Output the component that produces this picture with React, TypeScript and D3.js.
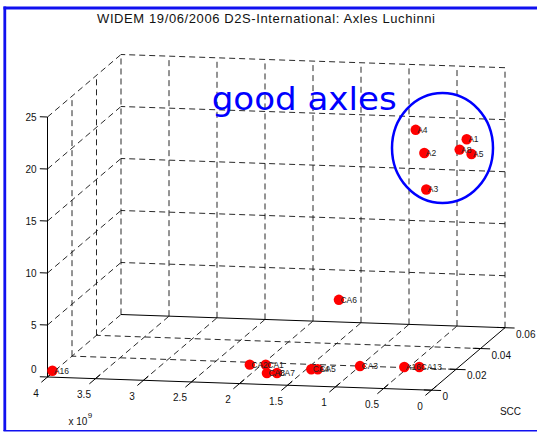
import React from 'react';
import * as d3 from 'd3';

// point labels and coordinates (x in units of 1e9, SCC, vertical value)
const labels = ['A1', 'A2', 'A3', 'A4', 'A5', 'A8', 'CA6', 'A16', 'CA2', 'CA1', 'CA8', 'CA7', 'CA4', 'CA5', 'CA3', 'A16', 'CA13'];
const xVals = [0.08, 0.33, 0.31, 0.42, 0.03, 0.09, 1.22, 4.0, 2.12, 1.96, 1.85, 1.75, 1.45, 1.385, 1.0, 0.545, 0.395];
const sccVals = [0.035, 0.02, 0.02, 0.02, 0.035, 0.03, 0.02, 0.004, 0.0178, 0.0183, 0.0106, 0.011, 0.0155, 0.0157, 0.02, 0.0205, 0.021];
const zVals = [20.6, 20.7, 17.2, 22.9, 19.2, 20.1, 6.3, 0.2, 0, 0, 0, 0, 0, 0, 0, 0, 0];

const xTicks = [0, 0.5, 1, 1.5, 2, 2.5, 3, 3.5, 4];
const yTicks = [0, 0.02, 0.04, 0.06];
const zTicks = [0, 5, 10, 15, 20, 25];

const title = 'WIDEM 19/06/2006 D2S-International: Axles Luchinni';
const note = 'good axles';

const W = 537;
const H = 432;

// oblique 3D projection built from linear scales
const origin = [431.5, 390.2];
const sxX = d3.scaleLinear().domain([0, 4]).range([0, -384]);
const syX = d3.scaleLinear().domain([0, 4]).range([0, -13.2]);
const sxY = d3.scaleLinear().domain([0, 0.06]).range([0, 73.5]);
const syY = d3.scaleLinear().domain([0, 0.06]).range([0, -62.5]);
const syZ = d3.scaleLinear().domain([0, 25]).range([0, -260]);

const P = (x: number, y: number, z: number): [number, number] => [
    origin[0] + sxX(x) + sxY(y),
    origin[1] + syX(x) + syY(y) + syZ(z),
];

type Seg = [[number, number], [number, number]];

const font = 'Liberation Sans, Arial, Helvetica, sans-serif';

const App = () => {
    const xMax = 4, yMax = 0.06, zMax = 25;

    const dashed: Seg[] = [];
    // floor
    xTicks.filter(t => t > 0).forEach(t => dashed.push([P(t, 0, 0), P(t, yMax, 0)]));
    yTicks.filter(t => t > 0 && t < yMax).forEach(t => dashed.push([P(0, t, 0), P(xMax, t, 0)]));
    // back wall
    xTicks.forEach(t => dashed.push([P(t, yMax, 0), P(t, yMax, zMax)]));
    zTicks.filter(t => t > 0).forEach(t => dashed.push([P(0, yMax, t), P(xMax, yMax, t)]));
    // left wall
    yTicks.filter(t => t > 0 && t < yMax).forEach(t => dashed.push([P(xMax, t, 0), P(xMax, t, zMax)]));
    zTicks.filter(t => t > 0).forEach(t => dashed.push([P(xMax, 0, t), P(xMax, yMax, t)]));

    const solid: Seg[] = [
        [P(0, 0, 0), P(xMax, 0, 0)],
        [P(0, 0, 0), P(0, yMax, 0)],
        [P(0, yMax, 0), P(xMax, yMax, 0)],
        [P(xMax, 0, 0), P(xMax, 0, zMax)],
    ];
    xTicks.forEach(t => solid.push([P(t, -0.005, 0), P(t, 0.004, 0)]));
    yTicks.forEach(t => solid.push([P(-0.1, t, 0), P(0.08, t, 0)]));
    zTicks.forEach(t => solid.push([P(xMax + 0.08, 0, t), P(xMax, 0, t)]));

    const pts = labels.map((l, i) => ({ l, p: P(xVals[i], sccVals[i], zVals[i]) }));

    return (
        <svg width={W} height={H} style={{ position: 'absolute', left: 0, top: 0, background: '#fff' }}>
            <rect x={0} y={0} width={W} height={H} fill="#fff" />
            <text x={266} y={22.5} textAnchor="middle" fontFamily={font} fontSize={13}
                textLength={338} lengthAdjust="spacing" fill="#111">{title}</text>

            <g stroke="#111" strokeWidth={0.9} strokeDasharray="6,4" fill="none">
                {dashed.map((s, i) => <line key={'d' + i} x1={s[0][0]} y1={s[0][1]} x2={s[1][0]} y2={s[1][1]} />)}
            </g>
            <g stroke="#000" strokeWidth={1} fill="none">
                {solid.map((s, i) => <line key={'s' + i} x1={s[0][0]} y1={s[0][1]} x2={s[1][0]} y2={s[1][1]} />)}
            </g>

            <g fontFamily={font} fontSize={10} fill="#111">
                {xTicks.map(t => {
                    const [x, y] = P(t, 0, 0);
                    return <text key={'xt' + t} x={x - 11.5} y={y + 19.5} textAnchor="middle">{String(t)}</text>;
                })}
                {yTicks.map(t => {
                    const [x, y] = P(0, t, 0);
                    return <text key={'yt' + t} x={x + 11} y={y + 10}>{String(t)}</text>;
                })}
                {zTicks.map(t => {
                    const [x, y] = P(xMax, 0, t);
                    return <text key={'zt' + t} x={x - 11} y={y + (t === 0 ? -4.5 : 3.5)} textAnchor="end">{String(t)}</text>;
                })}
                <text x={68.5} y={425}>x 10</text>
                <text x={87.8} y={418} fontSize={8}>9</text>
                <text x={510.5} y={415} textAnchor="middle">SCC</text>
            </g>

            <g fill="#ff0000">
                {pts.map((d, i) => <circle key={'p' + i} cx={d.p[0]} cy={d.p[1]} r={5.2} />)}
            </g>
            <g fontFamily={font} fontSize={8.5} fill="#222">
                {pts.map((d, i) => <text key={'l' + i} x={d.p[0] + 1.5} y={d.p[1] + 3}>{d.l}</text>)}
            </g>

            <ellipse cx={442.5} cy={148} rx={50.5} ry={55} fill="none" stroke="#0000ff" strokeWidth={2.5} />
            <text x={211.7} y={110} fontFamily="DejaVu Sans, Verdana, sans-serif" fontSize={32}
                textLength={185} lengthAdjust="spacingAndGlyphs" fill="#0000ff">{note}</text>

            <g stroke="#1010f0" fill="none">
                <line x1={4.8} y1={6.5} x2={4.8} y2={431} strokeWidth={2.8} />
                <line x1={3.5} y1={8} x2={W} y2={8} strokeWidth={2.8} />
                <line x1={3.5} y1={430.7} x2={W} y2={430.7} strokeWidth={1.4} />
            </g>
        </svg>
    );
};

export default App;
